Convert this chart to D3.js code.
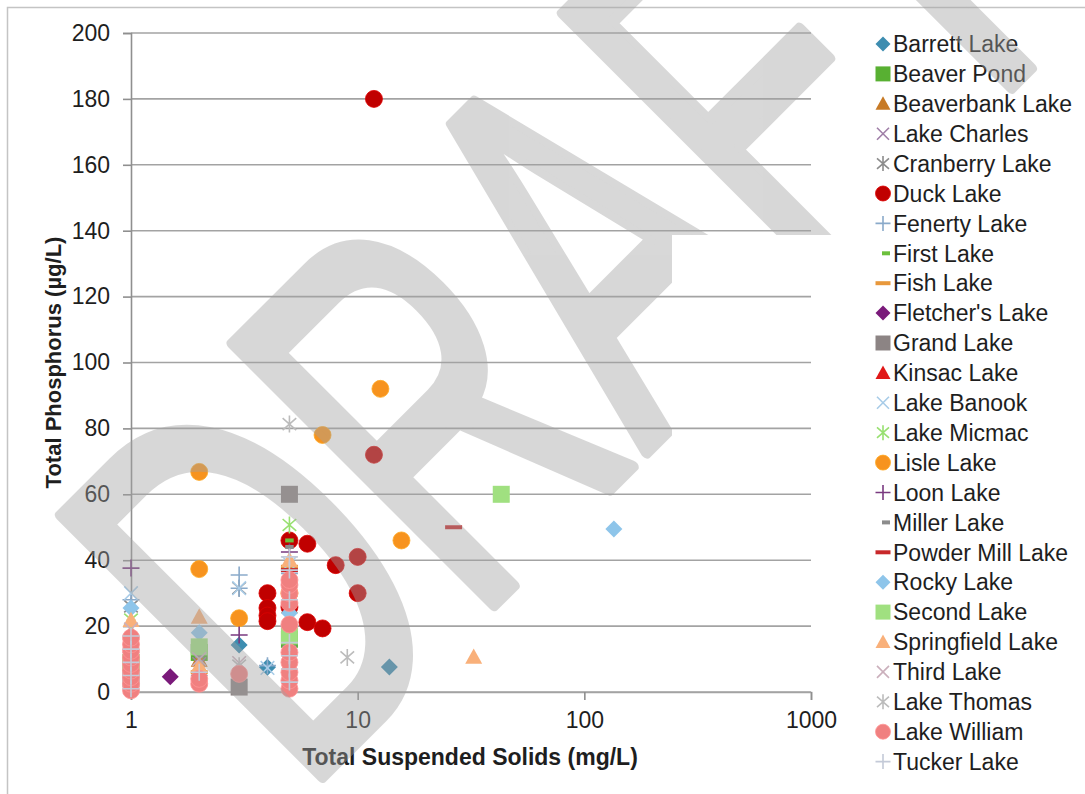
<!DOCTYPE html>
<html><head><meta charset="utf-8">
<script src="https://cdn.jsdelivr.net/npm/d3@7"></script>
<style>
body{margin:0;background:#fff;}
svg{display:block;}
text{font-family:"Liberation Sans",Arial,sans-serif;}
</style>
</head><body>
<svg id="chart" width="1085" height="794"></svg>
<script>
// ---------- DATA ----------
const seriesNames = ["Barrett Lake","Beaver Pond","Beaverbank Lake","Lake Charles","Cranberry Lake","Duck Lake","Fenerty Lake","First Lake","Fish Lake","Fletcher's Lake","Grand Lake","Kinsac Lake","Lake Banook","Lake Micmac","Lisle Lake","Loon Lake","Miller Lake","Powder Mill Lake","Rocky Lake","Second Lake","Springfield Lake","Third Lake","Lake Thomas","Lake William","Tucker Lake"];
const seriesColors = ["#3d8db0","#58b032","#c77a26","#a07fa8","#8c8c8c","#c00000","#8aaaca","#6cc03c","#e8983c","#7a1a7a","#8c8484","#e01818","#a8cce8","#98e070","#f7931e","#7a3a80","#8c8c8c","#c8282a","#8ec5ea","#a0e080","#f9b07a","#cbb0bc","#bcbcbc","#f08080","#c4cad8"];
const seriesMarkers = ["diamond","square","triangle","x","star","circle","plus","dashShort","dashLong","diamond","square","triangle","x","star","circle","plus","dashShort","dashLong","diamond","square","triangle","x","star","circle","plus"];

// [TSS (mg/L), TP (ug/L)]
const barrett     = [[13.8,7.6],[3,14.3],[4,7.5],[1,17],[2,5]];
const beaverPond  = [[2,12],[5,16],[1,9]];
const beaverbank  = [[1,17.9],[2,9.7],[5,26],[2,4]];
const lakeCharles = [[2,8.5],[1,14],[5,12]];
const cranberry   = [[3,31.5],[1,26]];
const duck        = [[11.8,180],[4,30],[4,25.5],[4,23.2],[4,21.5],[5,46],[6,45],[6,21.2],[7,19.3],[8,38.5],[10,41],[10,30],[11.8,72],[5,25.8]];
const fenerty     = [[3,35.5],[3,31.5],[4,8],[1,28],[5,36]];
const firstLake   = [[5,46],[1,21.5]];
const fishLake    = [[5,38],[2,6]];
const fletchers   = [[1.49,4.6],[1,12]];
const grand       = [[5,60],[3,1.5],[1,4]];
const kinsac      = [[5,35],[1,15]];
const banook      = [[1,30],[3,31.5],[4,7.3],[5,39]];
const micmac      = [[5,50.7],[5,15],[1,22]];
const lisle       = [[2,66.8],[2,37.3],[3,22.4],[7,78],[12.6,92],[15.6,46],[5,30]];
const loon        = [[1,37.6],[3,17.3],[5,42.5]];
const miller      = [[5,44],[2,11]];
const powderMill  = [[26.5,50],[5,37]];
const rocky       = [[135,49.5],[1,25.5],[2,18],[5,24],[5,33]];
const secondLake  = [[43,60],[2,13.7],[5,17]];
const springfield = [[32.5,10.6],[1,21.8],[2,22.8],[2,8],[5,40],[5,29]];
const thirdLake   = [[3,8.8],[2,10],[1,19]];
const thomas      = [[5,81.3],[9,10.5],[3,8]];
const william     = [[1,0.5],[1,2.5],[1,4.5],[1,6.5],[1,8.5],[1,10.5],[1,12.5],[1,14.5],[1,16.5],[2,2.5],[2,4],[3,5.5],[5,1],[5,3.5],[5,6],[5,9],[5,12],[5,20.5],[5,27],[5,30],[5,32.5],[5,34]];
const tucker      = [[1,1],[1,5],[1,9],[1,13],[1,17],[2,6],[5,3],[5,7],[5,11],[5,15],[5,28],[5,37],[5,41]];

const seriesData = [barrett,beaverPond,beaverbank,lakeCharles,cranberry,duck,fenerty,firstLake,fishLake,fletchers,grand,kinsac,banook,micmac,lisle,loon,miller,powderMill,rocky,secondLake,springfield,thirdLake,thomas,william,tucker];

const xTicks = [1,10,100,1000];
const yTicks = [0,20,40,60,80,100,120,140,160,180,200];
const xTitle = "Total Suspended  Solids (mg/L)";
const yTitle = "Total Phosphorus (\u00B5g/L)";
const watermark = "DRAFT";

// ---------- DRAW ----------
const svg = d3.select("#chart");
const x = d3.scaleLog().domain([1,1000]).range([131,811]);
const y = d3.scaleLinear().domain([0,200]).range([692,33]);

// outer border (top/left visible)
svg.append("path").attr("d","M7.5,794 V7.5 H1085").attr("fill","none").attr("stroke","#c4c4c4").attr("stroke-width",1.5);

// gridlines
svg.append("g").selectAll("line").data(yTicks).join("line")
  .attr("x1",x(1)).attr("x2",x(1000)).attr("y1",d=>y(d)).attr("y2",d=>y(d))
  .attr("stroke","#a3a3a3").attr("stroke-width",1.6);

// y axis
const yAxis = svg.append("g").attr("transform",`translate(${x(1)},0)`)
  .call(d3.axisLeft(y).tickValues(yTicks).tickSize(8).tickPadding(13));
yAxis.select(".domain").attr("stroke","#8f8f8f").attr("stroke-width",1.6);
yAxis.selectAll(".tick line").attr("stroke","#8f8f8f").attr("stroke-width",1.6);
yAxis.selectAll("text").attr("font-size",23).attr("fill","#1e1e1e").style("font-family","'Liberation Sans',Arial,sans-serif");

// x axis
const xAxis = svg.append("g").attr("transform",`translate(0,${y(0)})`)
  .call(d3.axisBottom(x).tickValues(xTicks).tickFormat(d3.format("d")).tickSize(8).tickPadding(12));
xAxis.select(".domain").attr("stroke","#a3a3a3").attr("stroke-width",1.6);
xAxis.selectAll(".tick line").attr("stroke","#8f8f8f").attr("stroke-width",1.6);
xAxis.selectAll("text").attr("font-size",23).attr("fill","#1e1e1e").style("font-family","'Liberation Sans',Arial,sans-serif");

// titles
svg.append("text").attr("x",470).attr("y",765).attr("text-anchor","middle")
  .attr("font-size",23).attr("font-weight","bold").attr("fill","#1e1e1e").text(xTitle);
svg.append("text").attr("transform",`translate(61,${(y(0)+y(200))/2}) rotate(-90)`).attr("text-anchor","middle")
  .attr("font-size",22).attr("font-weight","bold").attr("fill","#1e1e1e").text(yTitle);

// marker drawing
function drawMarker(sel, type, s, color){
  const strokeTypes = {x:1, star:1, plus:1};
  if(type==="circle"){
    sel.append("circle").attr("r",s).attr("fill",color).attr("stroke",d3.color(color).brighter(0.4)).attr("stroke-width",0.8);
    return;
  }
  let d;
  const t = s;
  if(type==="diamond") d=`M0,${-t}L${t},0L0,${t}L${-t},0Z`;
  else if(type==="square") d=`M${-t},${-t}H${t}V${t}H${-t}Z`;
  else if(type==="triangle") d=`M0,${-t}L${t},${t*0.8}L${-t},${t*0.8}Z`;
  else if(type==="x") d=`M${-t*0.8},${-t*0.8}L${t*0.8},${t*0.8}M${-t*0.8},${t*0.8}L${t*0.8},${-t*0.8}`;
  else if(type==="star") d=`M${-t*0.8},${-t*0.7}L${t*0.8},${t*0.7}M${-t*0.8},${t*0.7}L${t*0.8},${-t*0.7}M0,${-t}V${t}`;
  else if(type==="plus") d=`M${-t},0H${t}M0,${-t}V${t}`;
  else if(type==="dashShort") d=`M${-t*0.5},-2H${t*0.5}V2H${-t*0.5}Z`;
  else if(type==="dashLong") d=`M${-t},-2H${t}V2H${-t}Z`;
  const path = sel.append("path").attr("d",d);
  if(strokeTypes[type]) path.attr("fill","none").attr("stroke",color).attr("stroke-width",1.6);
  else path.attr("fill",color);
}

// points (series drawn in order)
const plot = svg.append("g");
seriesData.forEach((pts,i)=>{
  const g = plot.append("g");
  pts.forEach(p=>{
    const m = g.append("g").attr("transform",`translate(${x(p[0])},${y(p[1])})`);
    drawMarker(m, seriesMarkers[i], 8.5, seriesColors[i]);
  });
});

// legend
const legend = svg.append("g");
seriesNames.forEach((name,i)=>{
  const cy = 44 + i*29.9;
  const mk = seriesMarkers[i];
  const m = legend.append("g").attr("transform",`translate(${mk==="dashShort"?886:883},${cy})`);
  drawMarker(m, mk, mk==="dashShort"?8:7.5, seriesColors[i]);
  legend.append("text").attr("x",893).attr("y",cy).attr("dy","0.36em")
    .attr("font-size",23).attr("fill","#1e1e1e").text(name);
});

// watermark (partly missing in the scanned original on the right side)
const defs = svg.append("defs");
defs.append("clipPath").attr("id","wmclip").append("path")
  .attr("d","M0,0H1085V235H672V794H0Z");
const wm = svg.append("g").attr("opacity",0.42).attr("clip-path","url(#wmclip)").style("pointer-events","none");
wm.append("text")
  .attr("transform","translate(301.5,797.5) rotate(-45) scale(0.626,1)")
  .attr("font-size",537)
  .attr("fill","#a2a2a2").attr("stroke","#a2a2a2").attr("stroke-width",12).attr("stroke-linejoin","round")
  .text(watermark);
</script>
</body></html>
